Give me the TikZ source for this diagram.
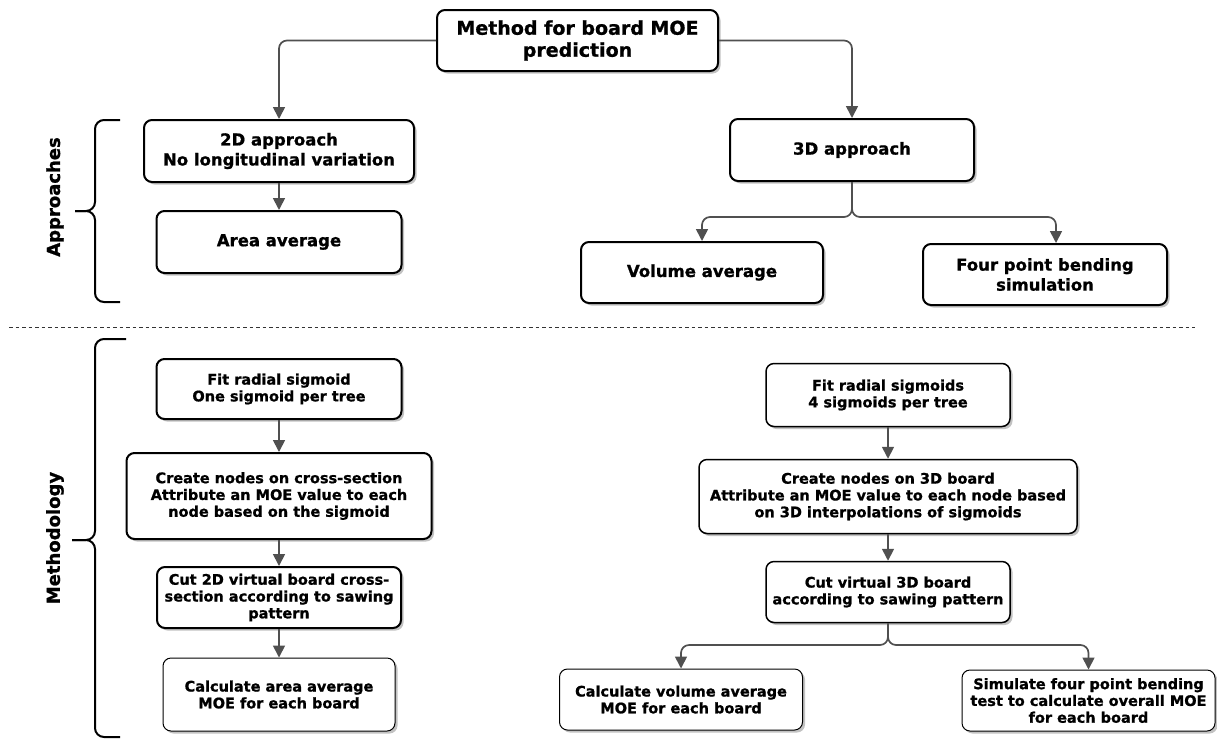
\documentclass[tikz,border=0pt]{standalone}
\usepackage{fontspec}
\setmainfont{DejaVu Sans}[BoldFont={DejaVu Sans Bold}, BoldFeatures={FakeBold=1}]
\usetikzlibrary{arrows.meta,shadows,calc}
\definecolor{conncol}{HTML}{505050}
\tikzset{
  box/.style={draw=black, rounded corners=8pt, fill=white, align=center, inner sep=2pt,
    font=\bfseries\fontsize{16.5}{20}\selectfont,
    drop shadow={shadow xshift=2.5pt, shadow yshift=-2.5pt, fill=black!40, opacity=0.6}},
  thickbox/.style={box, line width=2pt},
  medbox/.style={box, line width=1.5pt, font=\bfseries\fontsize{14.5}{16.8}\selectfont},
  lowbox/.style={box, line width=2pt, font=\bfseries\fontsize{14.5}{16.8}\selectfont},
  thinbox/.style={box, line width=1pt, font=\bfseries\fontsize{14.5}{16.8}\selectfont},
  conn/.style={draw=conncol, line width=1.7pt, rounded corners=8pt,
    -{Triangle[width=12pt,length=12pt]}},
  bracepath/.style={draw=black, line width=2pt, rounded corners=9pt},
  sidelabel/.style={rotate=90, font=\bfseries\fontsize{18}{20}\selectfont},
}
\begin{document}
\begin{tikzpicture}[x=1pt, y=-1pt]
\useasboundingbox (0,0) rectangle (1217,740);

% top section
\node[thickbox, minimum width=281, minimum height=61, font=\bfseries\fontsize{19}{22}\selectfont] (top) at (577.5,40.5) {Method for board MOE\\prediction};
\node[thickbox, minimum width=270, minimum height=62] (twoD) at (279,151) {2D approach\\No longitudinal variation};
\node[thickbox, minimum width=245, minimum height=62] (area) at (279,242) {Area average};
\node[thickbox, minimum width=244, minimum height=62] (threeD) at (852,150) {3D approach};
\node[thickbox, minimum width=242, minimum height=61] (vol) at (702,272.5) {Volume average};
\node[thickbox, minimum width=244, minimum height=61] (fpb) at (1045,274.5) {Four point bending\\simulation};

\coordinate (s1) at (852,217);
\draw[conn] (top.west) -| (twoD.north);
\draw[conn] (top.east) -| (threeD.north);
\draw[conn] (twoD.south) -- (area.north);
\draw[conn] (threeD.south) -- (s1) -| (vol.north);
\draw[conn] (threeD.south) -- (s1) -| ($(fpb.north)+(11,0)$);

% separator
\coordinate (d1) at (9,327);
\coordinate (d2) at (1195,327);
\draw[black!80, line width=1pt, dash pattern=on 3.5pt off 3pt] (d1) -- (d2);

% braces and labels
\draw[bracepath] (120,120) -- (95,120) -- (95,211) -- (75,211);
\draw[bracepath] (120,302) -- (95,302) -- (95,211) -- (75,211);
\node[sidelabel] (lab1) at (55,197) {Approaches};
\draw[bracepath] (126,339) -- (95,339) -- (95,540) -- (72,540);
\draw[bracepath] (120,737) -- (95,737) -- (95,540) -- (72,540);
\node[sidelabel] (lab2) at (55,538) {Methodology};

% lower left
\node[lowbox, minimum width=245, minimum height=60] (fit1) at (279,389) {Fit radial sigmoid\\One sigmoid per tree};
\node[lowbox, minimum width=305, minimum height=86] (cre1) at (279,496) {Create nodes on cross-section\\Attribute an MOE value to each\\node based on the sigmoid};
\node[lowbox, minimum width=244, minimum height=61] (cut1) at (279,597.5) {Cut 2D virtual board cross-\\section according to sawing\\pattern};
\node[thinbox, minimum width=232, minimum height=73] (calc1) at (279,694.5) {Calculate area average\\MOE for each board};
\draw[conn] (fit1.south) -- (cre1.north);
\draw[conn] (cre1.south) -- (cut1.north);
\draw[conn] (cut1.south) -- (calc1.north);

% lower right
\node[medbox, minimum width=244, minimum height=63] (fit2) at (888,395) {Fit radial sigmoids\\4 sigmoids per tree};
\node[medbox, minimum width=378, minimum height=74] (cre2) at (888,496.5) {Create nodes on 3D board\\Attribute an MOE value to each node based\\on 3D interpolations of sigmoids};
\node[medbox, minimum width=244, minimum height=61] (cut2) at (888,592) {Cut virtual 3D board\\according to sawing pattern};
\node[thinbox, minimum width=243, minimum height=61] (vol2) at (681,699.5) {Calculate volume average\\MOE for each board};
\node[thinbox, minimum width=253, minimum height=61] (sim) at (1088.5,700.5) {Simulate four point bending\\test to calculate overall MOE\\for each board};
\coordinate (s2) at (888,645);
\draw[conn] (fit2.south) -- (cre2.north);
\draw[conn] (cre2.south) -- (cut2.north);
\draw[conn] (cut2.south) -- (s2) -| (vol2.north);
\draw[conn] (cut2.south) -- (s2) -| (sim.north);
\end{tikzpicture}
\end{document}
